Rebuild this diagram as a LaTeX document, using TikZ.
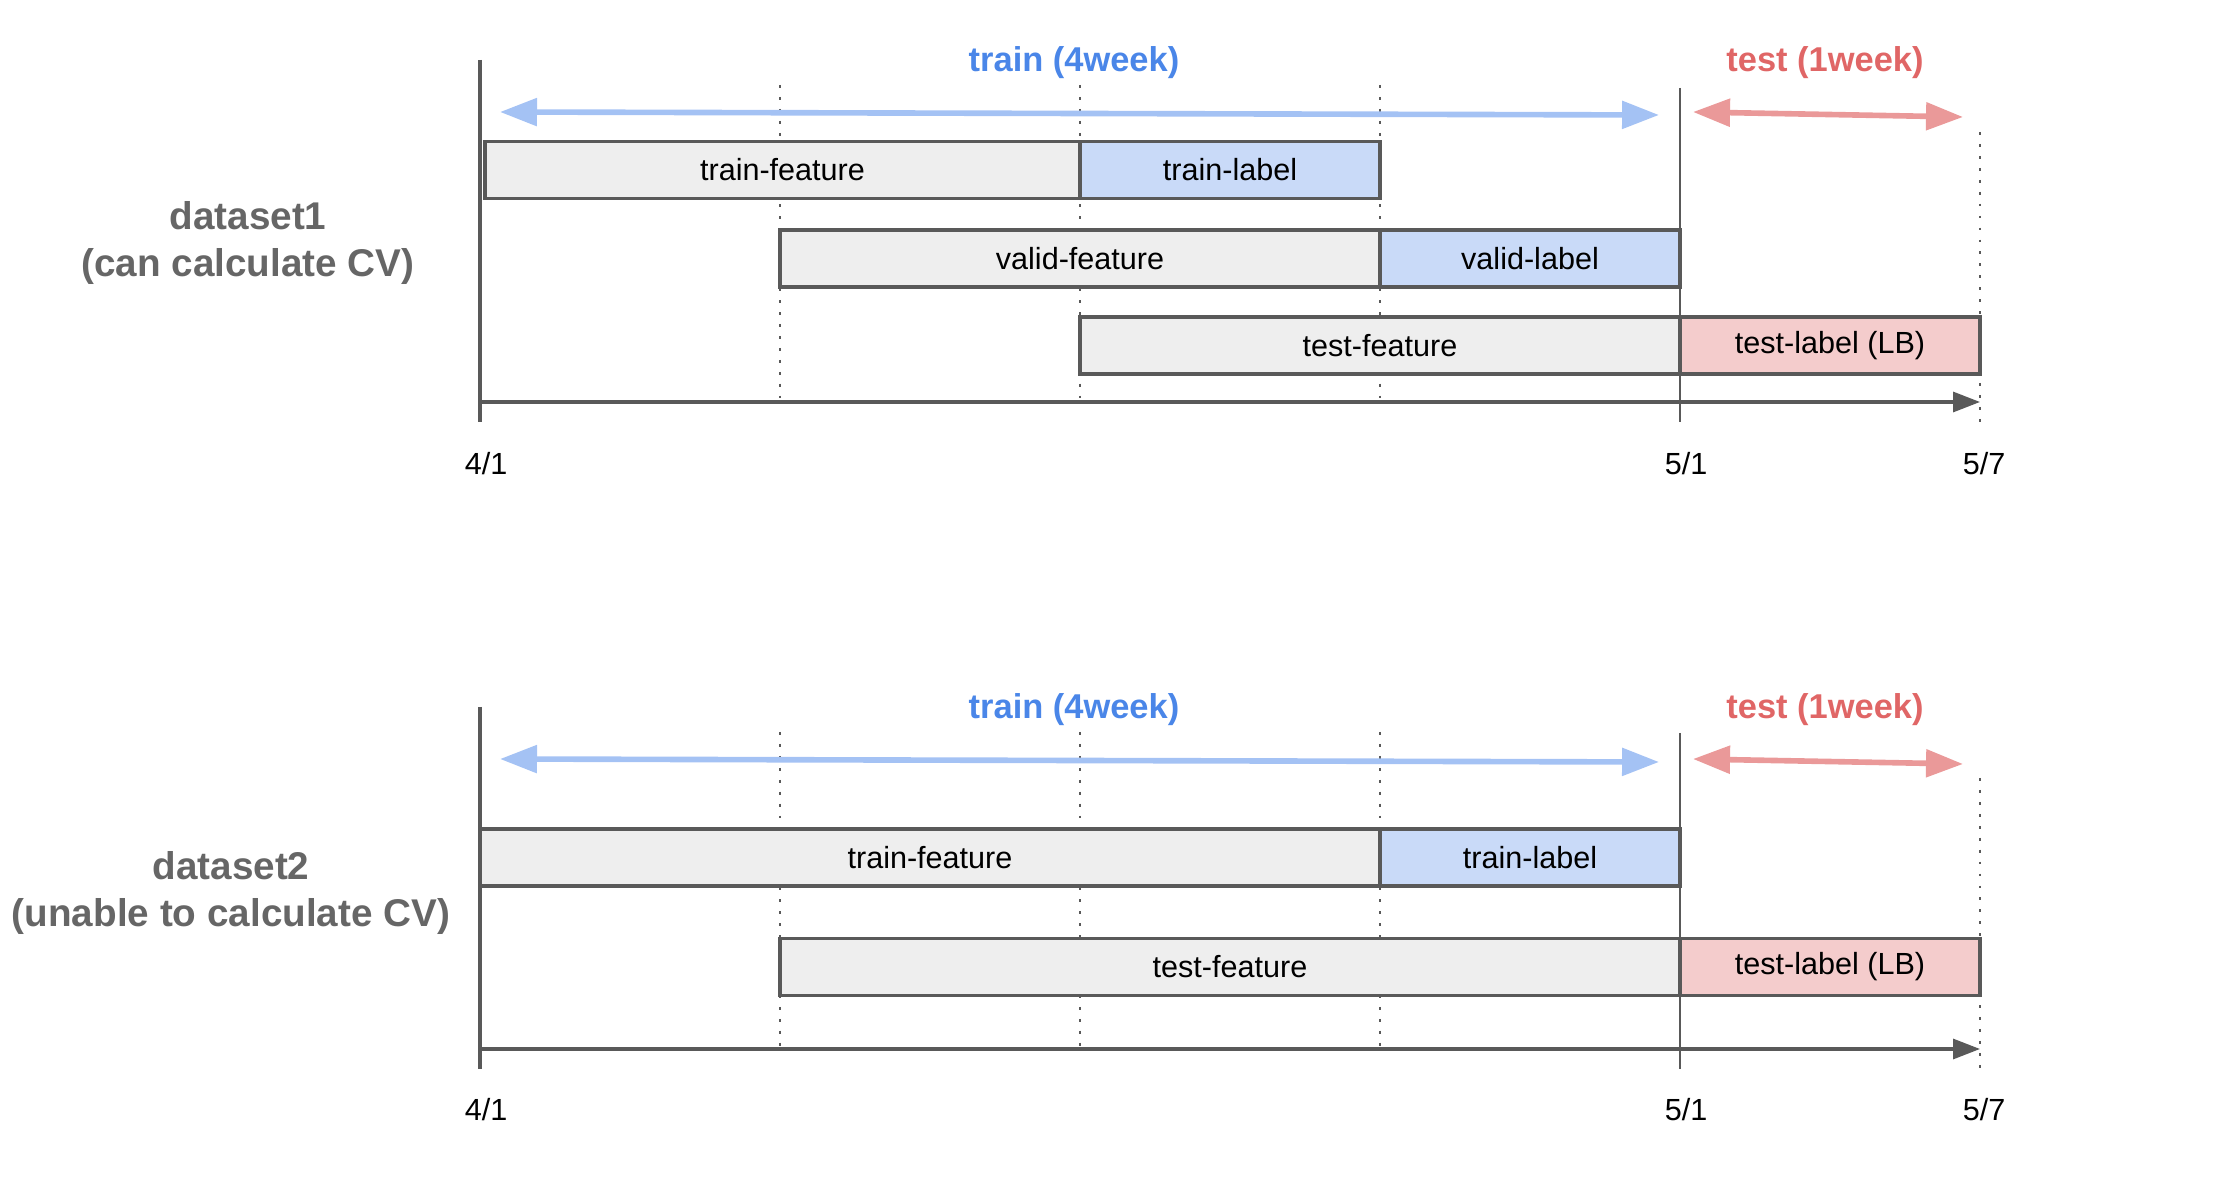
\documentclass[tikz,border=0pt]{standalone}
\usepackage{fontspec}
\setmainfont{Liberation Sans}
\usetikzlibrary{arrows.meta,positioning}
\definecolor{axisgray}{HTML}{595959}
\definecolor{featfill}{HTML}{EEEEEE}
\definecolor{labelfill}{HTML}{C9DAF8}
\definecolor{lbfill}{HTML}{F4CCCC}
\definecolor{trainblue}{HTML}{A4C2F4}
\definecolor{testred}{HTML}{EA9999}
\definecolor{trainhead}{HTML}{4A86E8}
\definecolor{testhead}{HTML}{E06666}
\definecolor{setgray}{HTML}{666666}

\begin{document}
\begin{tikzpicture}[
  x=1cm,y=1cm,
  bar/.style={draw=axisgray,line width=0.9pt,minimum height=0.57cm,inner sep=0pt,
    font=\fontsize{8.7}{10}\selectfont,text=black},
  featbar/.style={bar,fill=featfill},
  labelbar/.style={bar,fill=labelfill},
  lbbar/.style={bar,fill=lbfill},
  heading/.style={font=\fontsize{9.8}{12}\selectfont\bfseries},
  setname/.style={font=\fontsize{11}{13.2}\selectfont\bfseries,text=setgray,align=center},
  datelabel/.style={font=\fontsize{8.7}{10}\selectfont},
  timeaxis/.style={draw=axisgray,line width=0.9pt},
  dayline/.style={draw=axisgray,line width=0.75pt},
  weekline/.style={draw=axisgray,line width=0.8pt,dash pattern=on 0.8pt off 2.6pt},
  span/.style={line width=1.6pt,
    arrows={Triangle[length=3.7mm,width=2.7mm]-Triangle[length=3.7mm,width=2.7mm]}}
]
\useasboundingbox (0,0) rectangle (22.29,-11.79);

% dataset1
\draw[timeaxis] (4.80,-0.60) -- (4.80,-4.22);
\draw[dayline] (16.80,-0.88) -- (16.80,-4.22);
\draw[weekline] (7.80,-0.85) -- (7.80,-4.02);
\draw[weekline] (10.80,-0.85) -- (10.80,-4.02);
\draw[weekline] (13.80,-0.85) -- (13.80,-4.02);
\draw[weekline] (19.80,-1.32) -- (19.80,-4.22);

\node[heading,text=trainhead] (train1) at (10.74,-0.63) {train (4week)};
\node[heading,text=testhead] (test1) at (18.25,-0.63) {test (1week)};
\node[setname] (set1) at (2.48,-2.43) {dataset1\\(can calculate CV)};

\coordinate (trs1) at (5.00,-1.12);
\coordinate (tre1) at (16.59,-1.15);
\coordinate (tes1) at (16.93,-1.12);
\coordinate (tee1) at (19.63,-1.17);
\draw[span,trainblue] (trs1) -- (tre1);
\draw[span,testred] (tes1) -- (tee1);

\node[featbar,minimum width=5.95cm] (tf1) at (7.825,-1.70) {train-feature};
\node[labelbar,minimum width=3cm] (tl1) at (12.30,-1.70) {train-label};
\node[featbar,minimum width=6cm] (vf1) at (10.80,-2.585) {valid-feature};
\node[labelbar,minimum width=3cm] (vl1) at (15.30,-2.585) {valid-label};
\node[featbar,minimum width=6cm] (sf1) at (13.80,-3.455) {test-feature};
\node[lbbar,minimum width=3cm] (sl1) at (18.30,-3.455) {test-label (LB)};

\coordinate (ax1) at (4.80,-4.02);
\coordinate (ay1) at (19.80,-4.02);
\draw[timeaxis,-{Triangle[length=2.7mm,width=2mm]}] (ax1) -- (ay1);
\node[datelabel] (d41a) at (4.86,-4.64) {4/1};
\node[datelabel] (d51a) at (16.86,-4.64) {5/1};
\node[datelabel] (d57a) at (19.84,-4.64) {5/7};

% dataset2
\draw[timeaxis] (4.80,-7.07) -- (4.80,-10.69);
\draw[dayline] (16.80,-7.33) -- (16.80,-10.69);
\draw[weekline] (7.80,-7.32) -- (7.80,-10.49);
\draw[weekline] (10.80,-7.32) -- (10.80,-10.49);
\draw[weekline] (13.80,-7.32) -- (13.80,-10.49);
\draw[weekline] (19.80,-7.78) -- (19.80,-10.69);

\node[heading,text=trainhead] (train2) at (10.74,-7.10) {train (4week)};
\node[heading,text=testhead] (test2) at (18.25,-7.10) {test (1week)};
\node[setname] (set2) at (2.31,-8.93) {dataset2\\(unable to calculate CV)};

\coordinate (trs2) at (5.00,-7.59);
\coordinate (tre2) at (16.59,-7.62);
\coordinate (tes2) at (16.93,-7.59);
\coordinate (tee2) at (19.63,-7.64);
\draw[span,trainblue] (trs2) -- (tre2);
\draw[span,testred] (tes2) -- (tee2);

\node[featbar,minimum width=9cm] (tf2) at (9.30,-8.575) {train-feature};
\node[labelbar,minimum width=3cm] (tl2) at (15.30,-8.575) {train-label};
\node[featbar,minimum width=9cm] (sf2) at (12.30,-9.67) {test-feature};
\node[lbbar,minimum width=3cm] (sl2) at (18.30,-9.67) {test-label (LB)};

\coordinate (ax2) at (4.80,-10.49);
\coordinate (ay2) at (19.80,-10.49);
\draw[timeaxis,-{Triangle[length=2.7mm,width=2mm]}] (ax2) -- (ay2);
\node[datelabel] (d41b) at (4.86,-11.10) {4/1};
\node[datelabel] (d51b) at (16.86,-11.10) {5/1};
\node[datelabel] (d57b) at (19.84,-11.10) {5/7};
\end{tikzpicture}
\end{document}
